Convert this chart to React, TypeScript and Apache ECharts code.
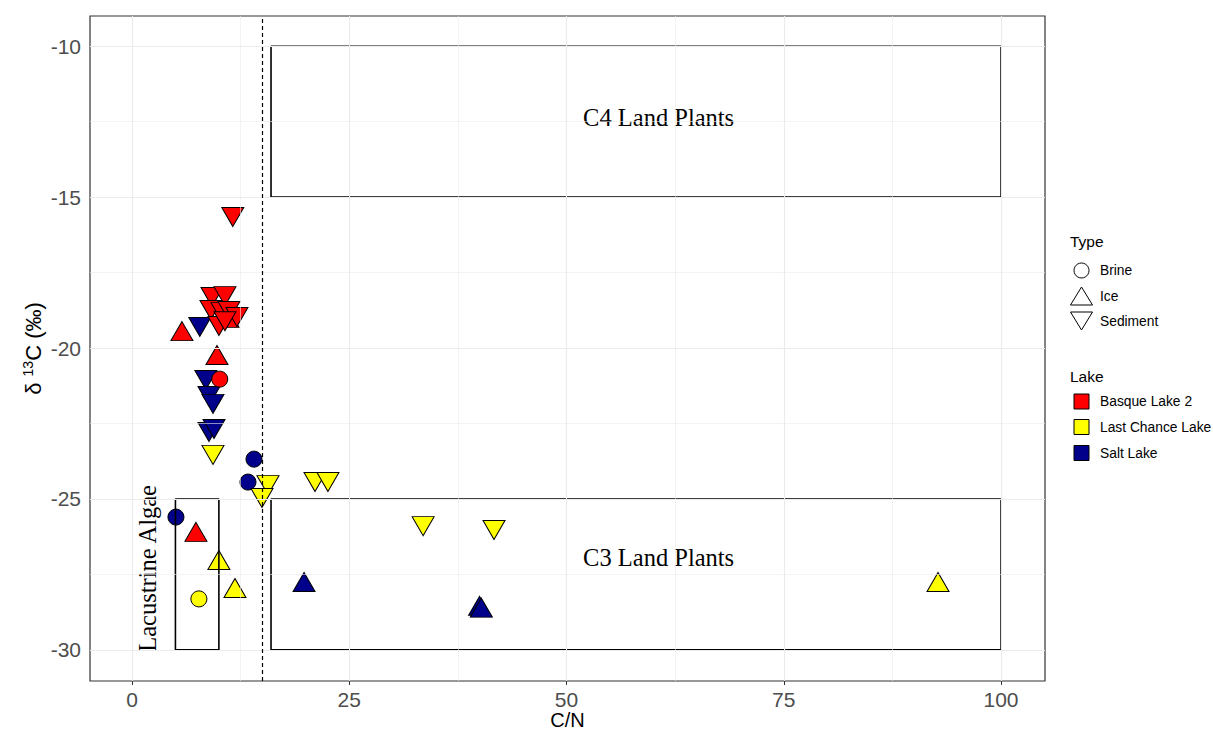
import React, { useEffect, useRef } from "react";
import * as echarts from "echarts";

// Axis ticks / grid
const xTicks = [0, 25, 50, 75, 100];
const xMinor = [12.5, 37.5, 62.5, 87.5];
const yTicks = [-30, -25, -20, -15, -10];
const yMinor = [-27.5, -22.5, -17.5, -12.5];
const X_MIN = -4.83;
const X_MAX = 105.06;
const Y_MIN = -31.03;
const Y_MAX = -9.0;

// Legend categories
const typeNames = ["Brine", "Ice", "Sediment"];
const lakeNames = ["Basque Lake 2", "Last Chance Lake", "Salt Lake"];
const lakeColors = ["#FF0000", "#FFFF00", "#00008B"];

// Data: [C/N, d13C]
const basqueBrine = [[10.1, -21.03]];
const basqueIce = [[5.75, -19.44], [9.78, -20.23], [11.05, -19.0], [7.36, -26.09]];
const basqueSediment = [
  [11.6, -15.66], [9.21, -18.31], [10.7, -18.28], [9.09, -18.74], [10.36, -18.81],
  [11.16, -18.77], [12.08, -18.97], [10.01, -19.27], [10.7, -19.11],
];
const lastChanceBrine = [[7.7, -28.31]];
const lastChanceIce = [[10.0, -27.02], [11.85, -27.95], [92.75, -27.75]];
const lastChanceSediment = [
  [9.32, -23.54], [15.65, -24.54], [14.96, -24.97], [21.06, -24.44],
  [22.55, -24.44], [33.5, -25.9], [41.66, -26.03],
];
const saltBrine = [[14.04, -23.68], [13.35, -24.44], [5.06, -25.6]];
const saltIce = [[19.8, -27.75], [40.0, -28.54], [40.2, -28.6]];
const saltSediment = [
  [7.8, -19.3], [8.5, -21.06], [8.86, -21.59], [9.32, -21.85], [8.86, -22.78], [9.44, -22.68],
];

// Reference zones [xmin, xmax, ymin, ymax]
const c4Box = [16, 100, -15, -10];
const c3Box = [16, 100, -30, -25];
const algaeBox = [5, 10, -30, -25];
const cnCutoff = 15;

// Zone labels
const zoneLabels = ["C4 Land Plants", "C3 Land Plants", "Lacustrine Algae"];
const zoneLabelX = [60.6, 60.6, 1.73];
const zoneLabelY = [-12.35, -26.95, -27.3];
const zoneLabelRotate = [0, 0, 90];

const SANS = "Liberation Sans, Arial, sans-serif";
const SERIF = "Liberation Serif, Times New Roman, serif";

export default function App() {
  const ref = useRef<HTMLDivElement>(null);

  useEffect(() => {
    if (!ref.current) return;
    const chart = echarts.init(ref.current, null, { renderer: "svg" });

    const symbolFor = (t: string) => (t === "Brine" ? "circle" : "triangle");
    const sizeFor = (t: string) => (t === "Brine" ? 16 : [22, 19]);
    const rotFor = (t: string) => (t === "Sediment" ? 180 : 0);

    const groups: [string, string, number[][]][] = [
      ["Salt Lake", "Brine", saltBrine],
      ["Salt Lake", "Ice", saltIce],
      ["Salt Lake", "Sediment", saltSediment],
      ["Last Chance Lake", "Brine", lastChanceBrine],
      ["Last Chance Lake", "Ice", lastChanceIce],
      ["Last Chance Lake", "Sediment", lastChanceSediment],
      ["Basque Lake 2", "Brine", basqueBrine],
      ["Basque Lake 2", "Ice", basqueIce],
      ["Basque Lake 2", "Sediment", basqueSediment],
    ];

    const pointSeries = groups.map(([lake, type, data]) => ({
      type: "scatter",
      name: lake + " " + type,
      data,
      symbol: symbolFor(type),
      symbolSize: sizeFor(type),
      symbolRotate: rotFor(type),
      itemStyle: {
        color: lakeColors[lakeNames.indexOf(lake)],
        borderColor: "#000",
        borderWidth: 1,
        opacity: 1,
      },
      z: 3,
      silent: true,
    }));

    const boxOutline = (b: number[]) => [
      [b[0], b[2]], [b[1], b[2]], [b[1], b[3]], [b[0], b[3]], [b[0], b[2]],
    ];

    const boxSeries = [c4Box, c3Box, algaeBox].map((b, i) => ({
      type: "line",
      name: "box" + i,
      data: boxOutline(b),
      showSymbol: false,
      symbol: "none",
      silent: true,
      z: 4,
      lineStyle: { color: "#000", width: 1.6, type: "solid", opacity: 1 },
    }));

    const gridSeries = {
      type: "scatter",
      name: "grid",
      data: [],
      z: 1,
      silent: true,
      markLine: {
        silent: true,
        symbol: ["none", "none"],
        label: { show: false },
        animation: false,
        data: [
          ...xMinor.map((v) => ({ xAxis: v, lineStyle: { color: "#ebebeb", width: 0.6, type: "solid" } })),
          ...yMinor.map((v) => ({ yAxis: v, lineStyle: { color: "#ebebeb", width: 0.6, type: "solid" } })),
          ...xTicks.map((v) => ({ xAxis: v, lineStyle: { color: "#ebebeb", width: 1.1, type: "solid" } })),
          ...yTicks.map((v) => ({ yAxis: v, lineStyle: { color: "#ebebeb", width: 1.1, type: "solid" } })),
        ],
      },
    };

    const annotationSeries = {
      type: "scatter",
      name: "zones",
      data: zoneLabels.map((t, i) => ({
        name: t,
        value: [zoneLabelX[i], zoneLabelY[i]],
        label: { rotate: zoneLabelRotate[i] },
      })),
      symbolSize: 1,
      itemStyle: { color: "rgba(0,0,0,0)" },
      z: 4,
      silent: true,
      label: {
        show: true,
        position: "inside",
        formatter: "{b}",
        fontFamily: SERIF,
        fontSize: 24.5,
        color: "#000",
        opacity: 1,
      },
      markLine: {
        silent: true,
        animation: false,
        symbol: ["none", "none"],
        label: { show: false },
        lineStyle: { color: "#000", width: 1.2, type: [4, 3], opacity: 1 },
        data: [{ xAxis: cnCutoff }],
      },
    };

    // Legend (drawn as graphic)
    const legendX = 1070;
    const keyCx = 1081.5;
    const textX = 1100;
    const typeY = [270.5, 296, 321];
    const lakeY = [401.5, 427, 453];
    const legendElems: any[] = [
      { type: "text", x: legendX, y: 241, style: { text: "Type", font: `15.5px ${SANS}`, fill: "#000", textVerticalAlign: "middle" } },
      { type: "text", x: legendX, y: 376, style: { text: "Lake", font: `15.5px ${SANS}`, fill: "#000", textVerticalAlign: "middle" } },
    ];
    typeNames.forEach((t, i) => {
      const cy = typeY[i];
      if (t === "Brine") {
        legendElems.push({ type: "circle", shape: { cx: keyCx, cy, r: 7.5 }, style: { fill: "none", stroke: "#000", lineWidth: 1 } });
      } else if (t === "Ice") {
        legendElems.push({ type: "polygon", shape: { points: [[keyCx - 11, cy + 9], [keyCx + 11, cy + 9], [keyCx, cy - 9]] }, style: { fill: "none", stroke: "#000", lineWidth: 1 } });
      } else {
        legendElems.push({ type: "polygon", shape: { points: [[keyCx - 11, cy - 9], [keyCx + 11, cy - 9], [keyCx, cy + 9]] }, style: { fill: "none", stroke: "#000", lineWidth: 1 } });
      }
      legendElems.push({ type: "text", x: textX, y: cy, style: { text: t, font: `13.8px ${SANS}`, fill: "#000", textVerticalAlign: "middle" } });
    });
    lakeNames.forEach((l, i) => {
      const cy = lakeY[i];
      legendElems.push({ type: "rect", shape: { x: keyCx - 7.5, y: cy - 7.5, width: 15, height: 15 }, style: { fill: lakeColors[i], stroke: "#000", lineWidth: 1 } });
      legendElems.push({ type: "text", x: textX, y: cy, style: { text: l, font: `13.8px ${SANS}`, fill: "#000", textVerticalAlign: "middle" } });
    });

    chart.setOption({
      animation: false,
      backgroundColor: "#fff",
      textStyle: { fontFamily: SANS },
      grid: {
        left: 90,
        right: 168,
        top: 16,
        bottom: 50,
        outerBoundsMode: "none",
        containLabel: false,
        show: true,
        borderColor: "#333",
        borderWidth: 1.2,
        backgroundColor: "rgba(0,0,0,0)",
      },
      xAxis: {
        type: "value",
        min: X_MIN,
        max: X_MAX,
        axisLine: { show: false },
        axisTick: { show: true, length: 4, customValues: xTicks, lineStyle: { color: "#333", width: 1 } },
        axisLabel: { customValues: xTicks, color: "#4d4d4d", fontSize: 21, margin: 8, fontFamily: SANS },
        splitLine: { show: false },
        name: "C/N",
        nameLocation: "middle",
        nameGap: 29,
        nameMoveOverlap: false,
        nameTextStyle: { fontSize: 20, lineHeight: 20, color: "#000", fontFamily: SANS },
      },
      yAxis: {
        type: "value",
        min: Y_MIN,
        max: Y_MAX,
        axisLine: { show: false },
        axisTick: { show: true, length: 4, customValues: yTicks, lineStyle: { color: "#333", width: 1 } },
        axisLabel: { customValues: yTicks, color: "#4d4d4d", fontSize: 21, margin: 9, fontFamily: SANS },
        splitLine: { show: false },
        name: "{a|δ }{s|13}{a|C (‰)}",
        nameLocation: "middle",
        nameGap: 44,
        nameMoveOverlap: false,
        nameTextStyle: {
          color: "#000",
          fontFamily: SANS,
          rich: {
            a: { fontSize: 22, lineHeight: 26, fontFamily: SANS, color: "#000" },
            s: { fontSize: 14, lineHeight: 14, padding: [0, 0, 11, 0], fontFamily: SANS, color: "#000" },
          },
        },
      },
      series: [gridSeries, ...pointSeries, ...boxSeries, annotationSeries],
      graphic: legendElems,
    });

    return () => chart.dispose();
  }, []);

  return (
    <div
      ref={ref}
      style={{ position: "fixed", left: 0, top: 0, width: 1213, height: 731 }}
    />
  );
}
